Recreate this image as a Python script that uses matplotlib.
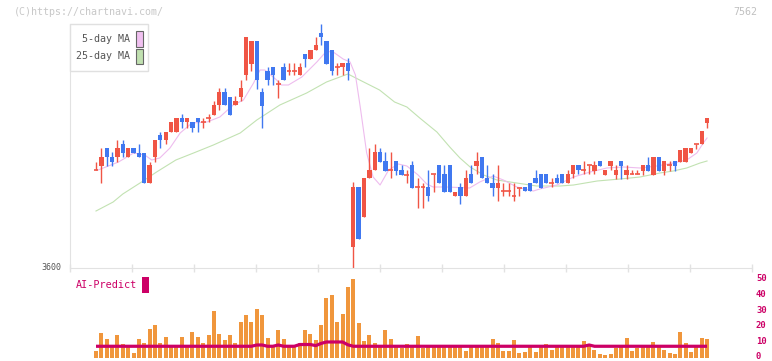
import numpy as np
import matplotlib
matplotlib.use('Agg')
import matplotlib.pyplot as plt
from matplotlib.patches import Rectangle
from matplotlib.transforms import blended_transform_factory

W, H = 772, 361
mono = 'DejaVu Sans Mono'

# daily candles 2020/1/16 .. 7/6 (115 trading days)
opens = [4090, 4110, 4200, 4155, 4155, 4220, 4155, 4200, 4175, 4175,
         4025, 4155, 4265, 4240, 4280, 4280, 4350, 4330, 4330, 4350,
         4330, 4350, 4365, 4415, 4480, 4455, 4415, 4455, 4565, 4620,
         4735, 4480, 4585, 4605, 4520, 4605, 4585, 4585, 4565, 4670,
         4645, 4690, 4775, 4735, 4690, 4605, 4605, 4625, 3705, 4005,
         3855, 4050, 4090, 4180, 4135, 4090, 4135, 4090, 4065, 4115,
         4005, 4005, 4005, 4070, 4115, 4070, 4115, 3960, 4005, 3960,
         4070, 4110, 4155, 4050, 4025, 4000, 3985, 3985, 3960, 4000,
         4005, 4025, 4050, 4070, 4070, 4025, 4050, 4070, 4025, 4070,
         4115, 4090, 4115, 4085, 4135, 4065, 4110, 4065, 4135, 4065,
         4070, 4070, 4085, 4115, 4065, 4155, 4085, 4115, 4135, 4130,
         4130, 4175, 4220, 4220, 4325]
highs = [4130, 4200, 4200, 4180, 4240, 4240, 4200, 4200, 4220, 4175,
         4130, 4240, 4280, 4280, 4330, 4350, 4370, 4350, 4330, 4350,
         4350, 4370, 4435, 4500, 4500, 4455, 4460, 4540, 4755, 4735,
         4735, 4500, 4605, 4605, 4540, 4625, 4625, 4625, 4625, 4670,
         4690, 4755, 4820, 4735, 4690, 4625, 4625, 4650, 4030, 4005,
         4050, 4200, 4220, 4200, 4180, 4180, 4135, 4115, 4090, 4135,
         4050, 4025, 4090, 4070, 4115, 4115, 4115, 3980, 4025, 4090,
         4115, 4180, 4155, 4115, 4070, 4115, 4025, 4025, 4025, 4000,
         4005, 4025, 4090, 4070, 4070, 4050, 4070, 4070, 4090, 4115,
         4115, 4135, 4115, 4135, 4135, 4090, 4135, 4115, 4135, 4115,
         4090, 4090, 4115, 4155, 4155, 4155, 4135, 4135, 4135, 4190,
         4200, 4200, 4220, 4285, 4350]
lows = [4090, 4025, 4110, 4110, 4130, 4155, 4155, 4175, 4155, 4025,
        4025, 4130, 4200, 4220, 4280, 4280, 4300, 4300, 4280, 4280,
        4300, 4330, 4365, 4390, 4415, 4365, 4415, 4435, 4540, 4585,
        4495, 4300, 4515, 4515, 4450, 4540, 4565, 4565, 4565, 4605,
        4645, 4690, 4715, 4620, 4565, 4565, 4565, 4540, 3600, 3745,
        3855, 4050, 4090, 4130, 4085, 4050, 4065, 4065, 4025, 4000,
        3900, 3900, 3935, 3980, 4025, 3980, 3980, 3960, 3920, 3960,
        4025, 4070, 4050, 4025, 3960, 3935, 3960, 3960, 3935, 3960,
        3985, 3985, 4025, 4000, 4025, 4005, 4025, 4025, 4025, 4050,
        4070, 4070, 4070, 4070, 4110, 4065, 4090, 4045, 4045, 4045,
        4070, 4070, 4065, 4085, 4065, 4085, 4065, 4085, 4085, 4130,
        4130, 4175, 4195, 4220, 4300]
closes = [4090, 4155, 4155, 4130, 4200, 4175, 4200, 4175, 4155, 4025,
          4115, 4240, 4240, 4280, 4330, 4350, 4330, 4350, 4300, 4330,
          4330, 4350, 4415, 4480, 4415, 4365, 4435, 4500, 4755, 4735,
          4540, 4410, 4540, 4565, 4520, 4540, 4585, 4585, 4605, 4645,
          4690, 4715, 4755, 4620, 4585, 4605, 4625, 4585, 4005, 3745,
          4050, 4090, 4180, 4130, 4085, 4090, 4085, 4065, 4065, 4000,
          4005, 4005, 3960, 4070, 4025, 3980, 3980, 3980, 3960, 4050,
          4025, 4135, 4050, 4025, 4000, 4025, 3985, 3985, 3960, 4000,
          3985, 3985, 4025, 4000, 4025, 4025, 4025, 4025, 4070, 4115,
          4090, 4090, 4115, 4115, 4110, 4090, 4135, 4090, 4110, 4090,
          4070, 4070, 4115, 4085, 4155, 4085, 4135, 4115, 4110, 4190,
          4200, 4200, 4220, 4285, 4350]

# moving averages (day index, price)
ma5_idx = [0.4, 4.2, 7.0, 9.1, 10.4, 11.9, 13.8, 15.7, 17.9, 20.7, 23.1, 25.6,
           27.5, 29.4, 30.6, 31.5, 33.7, 34.6, 35.9, 38.4, 41.2, 42.7, 44.0,
           46.1, 47.4, 48.4, 49.3, 50.5, 51.7, 53.0, 54.6, 56.4, 58.0, 60.1,
           61.7, 62.9, 65.4, 69.7, 71.6, 74.1, 76.0, 78.5, 81.6, 82.8, 86.0,
           89.1, 92.2, 95.3, 98.4, 101.5, 104.6, 107.7, 110.2, 112.1, 113.3, 114.0]
ma5_val = [4090, 4130, 4175, 4165, 4140, 4150, 4200, 4275, 4325, 4330, 4355, 4415,
           4440, 4525, 4590, 4590, 4540, 4515, 4515, 4555, 4630, 4675, 4685,
           4645, 4630, 4565, 4405, 4175, 4055, 4015, 4090, 4120, 4110, 4065,
           4020, 4005, 4005, 4000, 4030, 4060, 4040, 4005, 3985, 3995, 4015,
           4055, 4080, 4100, 4105, 4100, 4110, 4125, 4140, 4175, 4225, 4250]
ma25_idx = [0, 3.2, 5.0, 8.5, 11.3, 14.9, 18.2, 21.9, 26.9, 30.0, 34.3, 39.3,
            43.0, 47.0, 49.2, 52.9, 55.7, 58.0, 60.4, 63.6, 66.0, 67.9, 69.8,
            72.3, 74.8, 78.5, 82.2, 86.6, 89.1, 93.5, 97.8, 101.5, 105.2,
            107.7, 110.2, 112.7, 114.0]
ma25_val = [3885, 3930, 3970, 4030, 4080, 4140, 4175, 4215, 4275, 4340, 4415, 4475,
            4530, 4570, 4540, 4490, 4430, 4405, 4350, 4280, 4205, 4150, 4105,
            4065, 4040, 4025, 4010, 4010, 4015, 4035, 4045, 4055, 4075,
            4085, 4100, 4125, 4135]

# AI-Predict panel
ai_bars = [4.2, 15.5, 11.8, 7, 14.2, 8.6, 7, 3.0, 11.8, 9.3,
           18.1, 20.6, 9.3, 13.0, 7, 7, 13.0, 7, 16.2, 13.0,
           9.3, 14.2, 29.3, 14.9, 11.1, 14.2, 9.3, 22.5, 26.9, 22.5,
           30.6, 26.9, 12.4, 7, 17.5, 11.8, 7, 7, 9.3, 17.5,
           14.9, 11.1, 20.6, 37.5, 39.4, 22.5, 27.6, 44.6, 49.6, 21.9,
           10.8, 14.2, 9.3, 7, 17.5, 11.8, 7, 5.8, 8.6, 7,
           13.6, 5.8, 7, 7, 7, 7, 7, 7, 7, 4.2,
           7, 7, 7, 7, 11.8, 9.3, 4.2, 4.2, 11.1, 3.0,
           3.6, 7, 3.6, 7, 8.6, 5.0, 7, 7, 7, 7,
           7, 10.5, 8.6, 5.0, 2.5, 1.9, 2.5, 5.8, 7, 12.4,
           4.2, 5.8, 7, 7, 9.9, 7, 5.0, 3.0, 2.5, 16.2,
           9.3, 3.6, 7, 12.4, 11.8]
ai_line = [7.2] * 30 + [8.0, 8.0, 7.2, 7.2, 8.0, 7.2, 7.2, 7.2, 8.3, 8.3,
                        8.3, 7.6, 9.0, 9.9, 9.9, 9.9, 9.9, 8.1] + [7.2] * 44 \
          + [8.0] + [7.2] * 22
ai_ticks = [0, 10, 20, 30, 40, 50]

date_labels = ['2/5', '2/20', '3/9', '3/24', '4/7', '4/21', '5/11', '5/25', '6/8', '6/22', '7/6']
date_pos = [14, 24, 34, 44, 54, 64, 74, 84, 94, 104, 114]

x0_px, step_px = 96, 5.36
xlim = ((70 - x0_px) / step_px, (752 - x0_px) / step_px)


def rect(x0, y0, x1, y1):
    return [x0 / W, 1 - y1 / H, (x1 - x0) / W, (y1 - y0) / H]


fig = plt.figure(figsize=(W / 100, H / 100), dpi=100)
fig.patch.set_facecolor('white')

# ---- price panel
ax = fig.add_axes(rect(70, 10, 752, 268))
ax.set_xlim(*xlim)
ax.set_ylim(3600, 4890)
for s in ['top', 'right']:
    ax.spines[s].set_visible(False)
ax.spines['bottom'].set_color('#e2e2e2')
ax.spines['left'].set_color('#e2e2e2')
ax.spines['left'].set_bounds(3600, 4820)
ticks = [((70 + 62 * k) - x0_px) / step_px for k in range(12)]
ax.set_xticks(ticks)
ax.set_xticklabels([])
ax.set_yticks([])
ax.tick_params(axis='x', direction='inout', length=6, width=1, color='#e2e2e2')

x = np.arange(len(closes))
o = np.array(opens); c = np.array(closes); hi = np.array(highs); lo = np.array(lows)
red, blue = '#f05545', '#4078f0'
cols = [red if cc >= oo else blue for oo, cc in zip(o, c)]

ax.plot(ma25_idx, ma25_val, color='#c2e2b2', lw=0.8, zorder=1)
ax.plot(ma5_idx, ma5_val, color='#eebcee', lw=0.8, zorder=1)
ax.vlines(x, lo, hi, colors=cols, lw=1.0, zorder=2)
body_lo = np.minimum(o, c)
body_h = np.abs(c - o)
doji = body_h == 0
ax.bar(x[~doji], body_h[~doji], bottom=body_lo[~doji], width=0.8,
       color=[cl for cl, d in zip(cols, doji) if not d], zorder=3)
ax.hlines(c[doji], x[doji] - 0.45, x[doji] + 0.45, colors=red, lw=1.2, zorder=3)

ax.text(-0.012, 0, '3600', transform=ax.transAxes, ha='right', va='center',
        fontsize=6.0, family=mono, color='#555555')

tr = blended_transform_factory(ax.transData, fig.transFigure)
for lab, p in zip(date_labels, date_pos):
    ax.text(p, 1 - 282 / H, lab, transform=tr, ha='center', va='center',
            fontsize=6.0, family=mono, color='#555555')

# ---- AI-Predict panel
ax2 = fig.add_axes(rect(70, 278.3, 752, 357.7))
ax2.set_xlim(*xlim)
ax2.set_ylim(0, 50)
for s in ax2.spines.values():
    s.set_visible(False)
ax2.set_xticks([])
ax2.set_yticks([])
ax2.bar(x, ai_bars, width=0.75, color='#f0963c', zorder=2)
ax2.plot(x, ai_line, color='#cc0066', lw=2.3, zorder=3, solid_capstyle='butt')
tr2 = blended_transform_factory(fig.transFigure, ax2.transData)
for v in ai_ticks:
    ax2.text(756 / W, max(v, 0.9), str(v), transform=tr2, ha='left', va='center',
             fontsize=6.4, family=mono, fontweight='bold', color='#cc0066')

# ---- decorations in pixel space
ov = fig.add_axes([0, 0, 1, 1], facecolor='none')
ov.set_xlim(0, W); ov.set_ylim(H, 0); ov.axis('off')
ov.text(14, 12, '(C)https://chartnavi.com/', fontsize=7.2, family=mono,
        color='#c8c8c8', ha='left', va='center')
ov.text(757, 12, '7562', fontsize=7.2, family=mono, color='#c0c0c0',
        ha='right', va='center')
ov.add_patch(Rectangle((70, 24), 78, 47, facecolor='white', edgecolor='#e0e0e0', lw=1))
ov.text(130, 38.5, '5-day MA', fontsize=7.2, family=mono, color='#555555', ha='right', va='center')
ov.text(130, 56, '25-day MA', fontsize=7.2, family=mono, color='#555555', ha='right', va='center')
ov.add_patch(Rectangle((136, 31), 6.5, 15.5, facecolor='#f0c0f0', edgecolor='#666666', lw=0.8))
ov.add_patch(Rectangle((136, 48.5), 6.5, 15, facecolor='#c0e0b0', edgecolor='#666666', lw=0.8))
ov.text(76, 285.5, 'AI-Predict', fontsize=7.3, family=mono, color='#cc0066', ha='left', va='center')
ov.add_patch(Rectangle((142, 277), 7, 16, facecolor='#cc0066', edgecolor='none'))

fig.savefig('out.png', dpi=100, facecolor='white')
